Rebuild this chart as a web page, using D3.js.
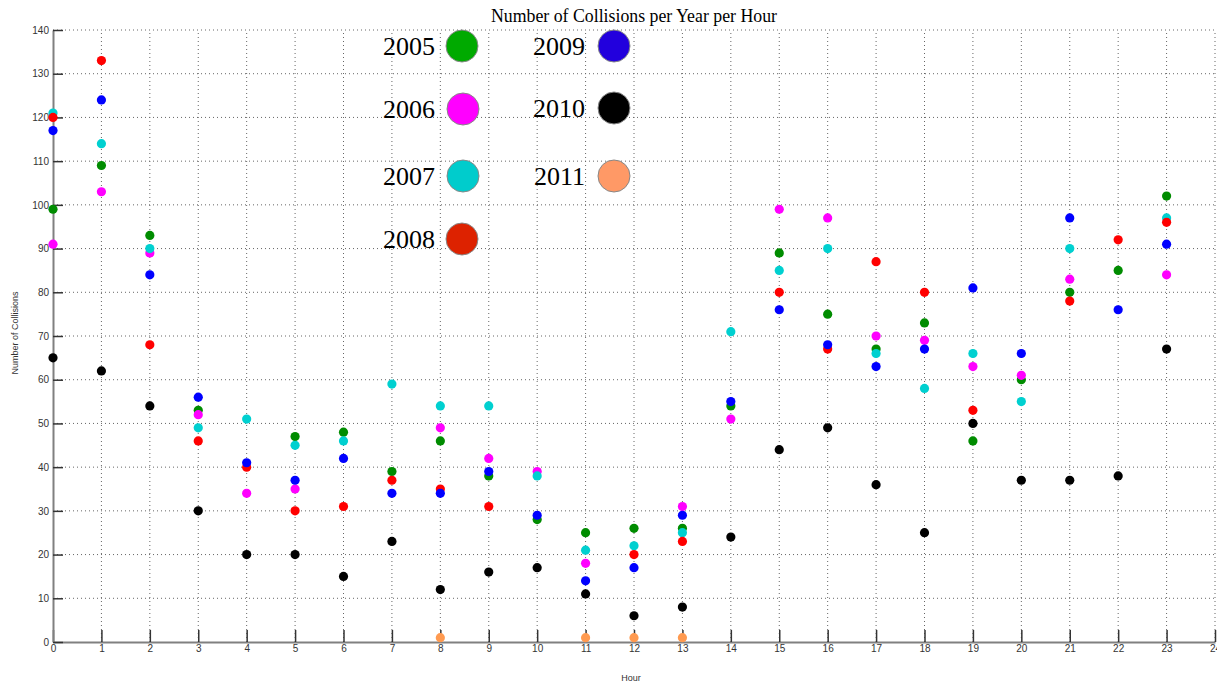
<!DOCTYPE html>
<html>
<head>
<meta charset="utf-8">
<script src="https://cdn.jsdelivr.net/npm/d3@7"></script>
<style>
  body { margin: 0; background: #fff; }
  svg { display: block; }
</style>
</head>
<body>
<div id="chart"></div>
<script>
'use strict';

var hours = d3.range(0, 24);
var years = ['2005', '2006', '2007', '2008', '2009', '2010', '2011'];

// one value per hour, null where no point shows
var y2005 = [99, 109, 93, 53, null, 47, 48, 39, 46, 38, 28, 25, 26, 26, 54, 89, 75, 67, 73, 46, 60, 80, 85, 102];
var y2006 = [91, 103, 89, 52, 34, 35, null, null, 49, 42, 39, 18, null, 31, 51, 99, 97, 70, 69, 63, 61, 83, null, 84];
var y2007 = [121, 114, 90, 49, 51, 45, 46, 59, 54, 54, 38, 21, 22, 25, 71, 85, 90, 66, 58, 66, 55, 90, null, 97];
var y2008 = [120, 133, 68, 46, 40, 30, 31, 37, 35, 31, null, null, 20, 23, null, 80, 67, 87, 80, 53, null, 78, 92, 96];
var y2009 = [117, 124, 84, 56, 41, 37, 42, 34, 34, 39, 29, 14, 17, 29, 55, 76, 68, 63, 67, 81, 66, 97, 76, 91];
var y2010 = [65, 62, 54, 30, 20, 20, 15, 23, 12, 16, 17, 11, 6, 8, 24, 44, 49, 36, 25, 50, 37, 37, 38, 67];
var y2011 = [null, null, null, null, null, null, null, null, 1, null, null, 1, 1, 1, null, null, null, null, null, null, null, null, null, null];

var series = [y2005, y2006, y2007, y2008, y2009, y2010, y2011];
var dotColours = ['#008c00', '#ff00ff', '#00d0d0', '#ff0000', '#0000ff', '#000000', '#ff9a50'];
var keyColours = ['#00aa00', '#ff00ff', '#00cccc', '#dd2200', '#2200dd', '#000000', '#ff9966'];

var xTicks = d3.range(0, 25);
var yTicks = d3.range(0, 141, 10);

var width = 1217, height = 684;
var margin = { top: 30, right: 2, bottom: 42, left: 53 };

var svg = d3.select('#chart').append('svg')
  .attr('width', width)
  .attr('height', height);

var x = d3.scaleLinear().domain([0, 24]).range([margin.left, width - margin.right]);
var y = d3.scaleLinear().domain([0, 140]).range([height - margin.bottom, margin.top]);

// grid
var grid = svg.append('g').attr('class', 'grid');
grid.selectAll('line.v')
  .data(xTicks.slice(1))
  .enter().append('line')
  .attr('x1', function (d) { return x(d); })
  .attr('x2', function (d) { return x(d); })
  .attr('y1', y(0))
  .attr('y2', y(140))
  .attr('stroke', '#666')
  .attr('stroke-width', 1)
  .attr('stroke-dasharray', '1,3');
grid.selectAll('line.h')
  .data(yTicks.slice(1))
  .enter().append('line')
  .attr('x1', x(0))
  .attr('x2', x(24))
  .attr('y1', function (d) { return y(d); })
  .attr('y2', function (d) { return y(d); })
  .attr('stroke', '#666')
  .attr('stroke-width', 1)
  .attr('stroke-dasharray', '1,3');

// axes with inward ticks
var xAxis = d3.axisBottom(x).tickValues(xTicks).tickSizeInner(-12).tickSizeOuter(0);
var yAxis = d3.axisLeft(y).tickValues(yTicks).tickSizeInner(-10).tickSizeOuter(0).tickPadding(4);

var gx = svg.append('g')
  .attr('transform', 'translate(0,' + y(0) + ')')
  .call(xAxis);
var gy = svg.append('g')
  .attr('transform', 'translate(' + x(0) + ',0)')
  .call(yAxis);

[gx, gy].forEach(function (g) {
  g.select('.domain').attr('stroke', '#808080').attr('stroke-width', 2);
  g.selectAll('.tick line').attr('stroke', '#333').attr('stroke-width', 1.5);
  g.selectAll('.tick text')
    .attr('fill', '#333')
    .style('font-family', 'Liberation Sans, Arial, sans-serif')
    .style('font-size', '10px');
});
gx.selectAll('.tick text').attr('y', 3);

// points
series.forEach(function (vals, i) {
  svg.append('g')
    .selectAll('circle')
    .data(hours.filter(function (h) { return vals[h] !== null; }))
    .enter().append('circle')
    .attr('cx', function (h) { return x(h); })
    .attr('cy', function (h) { return y(vals[h]); })
    .attr('r', 4.6)
    .attr('fill', dotColours[i]);
});

// title and axis labels
svg.append('text')
  .attr('x', 634)
  .attr('y', 22)
  .attr('text-anchor', 'middle')
  .style('font-family', 'Liberation Serif, Times New Roman, serif')
  .style('font-size', '17.8px')
  .text('Number of Collisions per Year per Hour');

svg.append('text')
  .attr('x', 631)
  .attr('y', 681)
  .attr('text-anchor', 'middle')
  .style('font-family', 'Liberation Sans, Arial, sans-serif')
  .style('font-size', '9px')
  .attr('fill', '#333')
  .text('Hour');

svg.append('text')
  .attr('transform', 'translate(18,' + 333 + ') rotate(-90)')
  .attr('text-anchor', 'middle')
  .style('font-family', 'Liberation Sans, Arial, sans-serif')
  .style('font-size', '9px')
  .attr('fill', '#333')
  .text('Number of Collisions');

// legend
var keyPos = [
  { tx: 435, cx: 462, cy: 46 },
  { tx: 435, cx: 463, cy: 109 },
  { tx: 435, cx: 463, cy: 176 },
  { tx: 435, cx: 462, cy: 239 },
  { tx: 585, cx: 614, cy: 46 },
  { tx: 585, cx: 614, cy: 108 },
  { tx: 585, cx: 614, cy: 176 }
];

var legend = svg.append('g').attr('class', 'legend');
years.forEach(function (yr, i) {
  var p = keyPos[i];
  legend.append('text')
    .attr('x', p.tx)
    .attr('y', p.cy + 9)
    .attr('text-anchor', 'end')
    .style('font-family', 'Liberation Serif, Times New Roman, serif')
    .style('font-size', '26px')
    .text(yr);
  legend.append('circle')
    .attr('cx', p.cx)
    .attr('cy', p.cy)
    .attr('r', 16)
    .attr('fill', keyColours[i])
    .attr('stroke', '#888')
    .attr('stroke-width', 1);
});
</script>
</body>
</html>
